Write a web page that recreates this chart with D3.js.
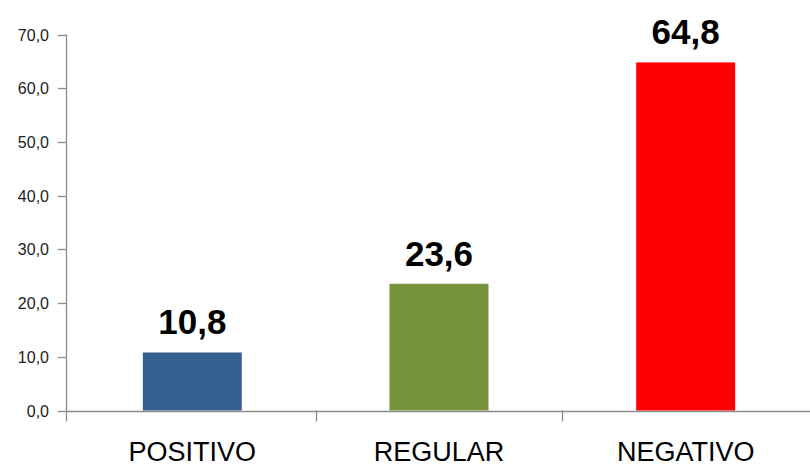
<!DOCTYPE html>
<html>
<head>
<meta charset="utf-8">
<script src="https://cdn.jsdelivr.net/npm/d3@7"></script>
<style>
  body { margin: 0; background: #fff; }
  svg { display: block; }
</style>
</head>
<body>
<svg width="810" height="468"></svg>
<script>
// chart data
const categories = ['POSITIVO', 'REGULAR', 'NEGATIVO']
const values = [10.8, 23.6, 64.8]
const colors = ['#376092', '#77933C', '#FF0000']
const yTicks = [0, 10, 20, 30, 40, 50, 60, 70]

document.addEventListener('DOMContentLoaded', () => {
    const svg = d3.select('svg')
    const fmt = v => d3.format('.1f')(v).replace('.', ',')

    const axisX = 66
    const yScale = d3.scaleLinear()
        .domain([0, 70])
        .range([410.5, 34.5])
    const xScale = d3.scaleBand()
        .domain(categories)
        .range([69, 809])
        .paddingInner(0)
        .paddingOuter(0)
    const barW = 99

    const axisColor = '#8c8c8c'

    // y axis
    svg.append('line')
        .attr('x1', axisX + 0.5).attr('x2', axisX + 0.5)
        .attr('y1', yScale(70)).attr('y2', yScale(0) + 11)
        .attr('stroke', axisColor).attr('stroke-width', 1.3)
    yTicks.forEach(t => {
        svg.append('line')
            .attr('x1', axisX - 8).attr('x2', axisX)
            .attr('y1', Math.round(yScale(t)) + 0.5).attr('y2', Math.round(yScale(t)) + 0.5)
            .attr('stroke', axisColor).attr('stroke-width', 1.3)
        svg.append('text')
            .attr('x', 49)
            .attr('y', yScale(t) + 6)
            .attr('text-anchor', 'end')
            .attr('font-family', 'Liberation Sans, Arial, sans-serif')
            .attr('font-size', 16)
            .attr('fill', '#222')
            .text(fmt(t))
    })

    // x axis
    svg.append('line')
        .attr('x1', axisX).attr('x2', 810)
        .attr('y1', Math.round(yScale(0)) + 0.5).attr('y2', Math.round(yScale(0)) + 0.5)
        .attr('stroke', axisColor).attr('stroke-width', 1.3)
    categories.slice(1).forEach(c => {
        const x = Math.round(xScale(c)) + 0.5
        svg.append('line')
            .attr('x1', x).attr('x2', x)
            .attr('y1', yScale(0)).attr('y2', yScale(0) + 11)
            .attr('stroke', axisColor).attr('stroke-width', 1.3)
    })

    // bars
    const g = svg.append('g')
    g.selectAll('rect').data(values)
        .enter().append('rect')
            .attr('x', (d, i) => xScale(categories[i]) + xScale.bandwidth() / 2 - barW / 2)
            .attr('y', d => yScale(d))
            .attr('width', barW)
            .attr('height', d => yScale(0) - yScale(d))
            .attr('fill', (d, i) => colors[i])

    // value labels
    g.selectAll('text.val').data(values)
        .enter().append('text')
            .attr('class', 'val')
            .attr('x', (d, i) => xScale(categories[i]) + xScale.bandwidth() / 2)
            .attr('y', d => yScale(d) - 18)
            .attr('text-anchor', 'middle')
            .attr('font-family', 'Liberation Sans, Arial, sans-serif')
            .attr('font-weight', 'bold')
            .attr('font-size', 35)
            .attr('fill', '#000')
            .text(d => fmt(d))

    // category labels
    g.selectAll('text.cat').data(categories)
        .enter().append('text')
            .attr('class', 'cat')
            .attr('x', d => xScale(d) + xScale.bandwidth() / 2)
            .attr('y', 461)
            .attr('text-anchor', 'middle')
            .attr('font-family', 'Liberation Sans, Arial, sans-serif')
            .attr('font-size', 27)
            .attr('fill', '#000')
            .text(d => d)
})
</script>
</body>
</html>
